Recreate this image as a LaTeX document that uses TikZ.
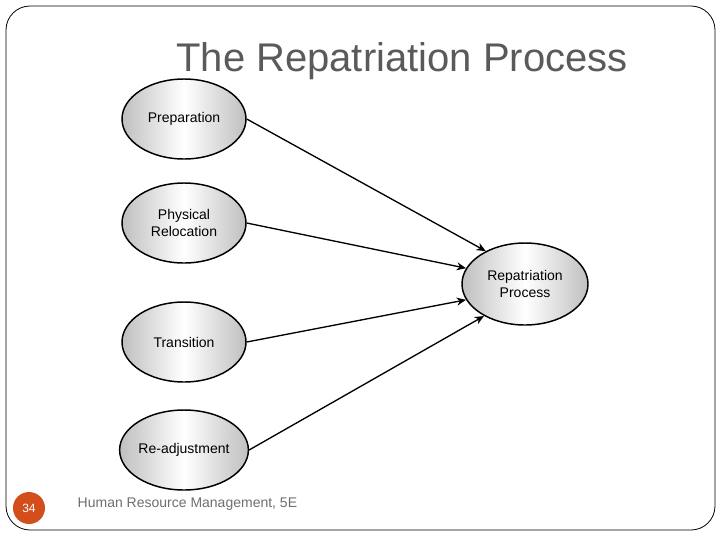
\documentclass[tikz,border=0pt]{standalone}
\usepackage{fontspec}
\setmainfont{Liberation Sans}
\usetikzlibrary{arrows.meta,shapes.geometric}
\definecolor{tgray}{RGB}{90,90,90}
\definecolor{ftgray}{RGB}{110,110,110}
\definecolor{dotorange}{RGB}{212,78,28}
\begin{document}
\begin{tikzpicture}[x=0.75pt,y=-0.75pt,
  el/.style={draw=black,line width=1.1pt,ellipse,minimum width=124*0.75pt,minimum height=80*0.75pt,
    left color=black!25,right color=black!25,middle color=white,align=center,
    font=\fontsize{10.5}{12.5}\selectfont,inner sep=0pt},
  arr/.style={-{Stealth[length=7pt,width=6pt]},line width=1pt}]
\useasboundingbox (0,0) rectangle (720,540);
\draw[line width=0.6pt,rounded corners=18pt] (6,6) rectangle (715,530);
\node[font=\fontsize{30}{33}\selectfont,text=tgray] (title) at (402,61) {The Repatriation Process};
\node[el] (prep) at (184,119) {Preparation};
\node[el] (phys) at (184,223) {Physical\\Relocation};
\node[el] (tran) at (184,342) {Transition};
\node[el] (read) at (184,450) {Re-adjustment};
\node[el,minimum width=126*0.75pt,minimum height=82*0.75pt] (rep) at (525,284) {Repatriation\\Process};
\draw[arr] (prep.east) -- (rep.140);
\draw[arr] (phys.east) -- (rep.165);
\draw[arr] (tran.east) -- (rep.195);
\draw[arr] (read.east) -- (rep.218);
\node[circle,fill=dotorange,minimum size=32*0.75pt,inner sep=0pt,text=white,font=\fontsize{9}{10}\selectfont] (num) at (29,508) {34};
\node[anchor=west,text=ftgray,font=\fontsize{10.5}{12}\selectfont] (foot) at (73,504) {Human Resource Management, 5E};
\end{tikzpicture}
\end{document}
